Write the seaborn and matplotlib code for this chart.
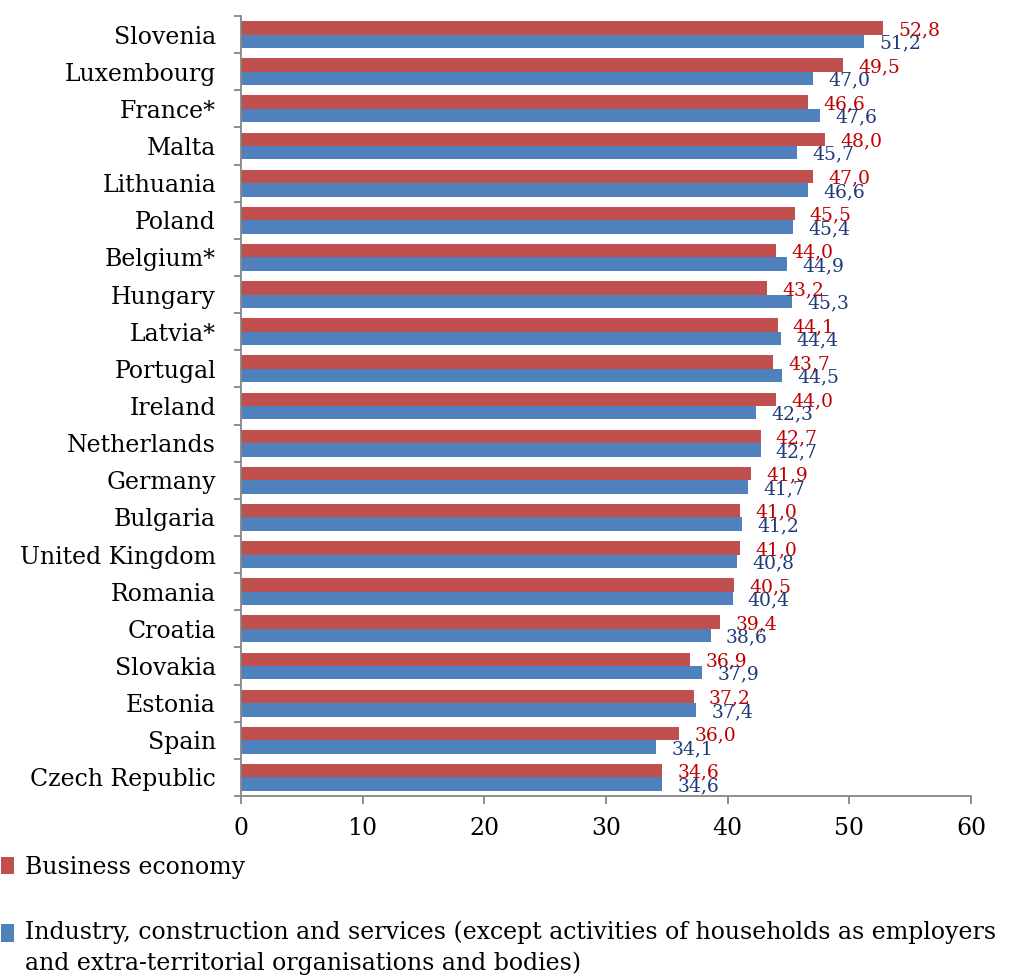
import matplotlib
matplotlib.use("Agg")
import matplotlib.pyplot as plt
import seaborn as sns
from matplotlib.ticker import FixedLocator
from pandas import DataFrame

countries = [
    "Slovenia", "Luxembourg", "France*", "Malta", "Lithuania", "Poland",
    "Belgium*", "Hungary", "Latvia*", "Portugal", "Ireland", "Netherlands",
    "Germany", "Bulgaria", "United Kingdom", "Romania", "Croatia", "Slovakia",
    "Estonia", "Spain", "Czech Republic",
]
business = [52.8, 49.5, 46.6, 48.0, 47.0, 45.5, 44.0, 43.2, 44.1, 43.7, 44.0,
            42.7, 41.9, 41.0, 41.0, 40.5, 39.4, 36.9, 37.2, 36.0, 34.6]
industry = [51.2, 47.0, 47.6, 45.7, 46.6, 45.4, 44.9, 45.3, 44.4, 44.5, 42.3,
            42.7, 41.7, 41.2, 40.8, 40.4, 38.6, 37.9, 37.4, 34.1, 34.6]
series = [
    "Business economy",
    "Industry, construction and services (except activities of households as employers\n"
    "and extra-territorial organisations and bodies)",
]
x_ticks = [0, 10, 20, 30, 40, 50, 60]

bar_colors = ["#C0504D", "#4F81BD"]
label_colors = ["#C00000", "#1F3A7A"]
axis_gray = "#868686"

sns.set_style("white")
plt.rcParams["font.family"] = ["DejaVu Serif"]
plt.rcParams["text.color"] = "black"
plt.rcParams["xtick.labelcolor"] = "black"
plt.rcParams["ytick.labelcolor"] = "black"

df = DataFrame({
    "country": countries * 2,
    "value": business + industry,
    "series": [series[0]] * len(countries) + [series[1]] * len(countries),
})

fig = plt.figure(figsize=(10.12, 9.77), dpi=100)
ax = fig.add_axes([241 / 1012, 1 - 796 / 977, 730 / 1012, 780 / 977])

sns.barplot(data=df, x="value", y="country", hue="series", order=countries,
            hue_order=series, palette=bar_colors, orient="h", width=0.72,
            linewidth=0, saturation=1, ax=ax, legend=True)

ax.set_xlim(0, 60)
ax.set_ylim(len(countries) - 0.5, -0.5)
ax.set_xticks(x_ticks)
ax.set_xlabel("")
ax.set_ylabel("")

# data labels, decimal comma, just right of each bar
for container, color in zip(ax.containers, label_colors):
    labels = [f"{b.get_width():.1f}".replace(".", ",") for b in container]
    texts = ax.bar_label(container, labels=labels, color=color, fontsize=13.5,
                         padding=11)
    for t in texts:
        t.set_va("center")
        x, y = t.xyann
        t.xyann = (x, y - 1.5)

sns.despine(ax=ax)
for side in ("left", "bottom"):
    ax.spines[side].set_color(axis_gray)
    ax.spines[side].set_linewidth(1.3)

ax.yaxis.set_minor_locator(FixedLocator([i - 0.5 for i in range(len(countries) + 1)]))
ax.tick_params(axis="y", which="major", length=0, pad=18, labelsize=17)
ax.tick_params(axis="y", which="minor", length=5, width=1.3, color=axis_gray,
               direction="out", left=True)
ax.tick_params(axis="x", which="major", length=6, width=1.3, color=axis_gray,
               direction="out", bottom=True, pad=9, labelsize=17)

handles, labs = ax.get_legend_handles_labels()
ax.get_legend().remove()
leg = fig.legend(handles, labs, loc="upper left", bbox_to_anchor=(-0.008, 0.1335),
                 frameon=False, fontsize=17, handlelength=0.55, handleheight=0.75,
                 handletextpad=0.45, labelspacing=1.75, borderaxespad=0)
for t in leg.get_texts():
    t.set_linespacing(1.4)
# put the second key square level with the first line of its label
leg.legend_handles[1].set_y(leg.legend_handles[1].get_y() + 11)

fig.savefig("out.png", dpi=100)
